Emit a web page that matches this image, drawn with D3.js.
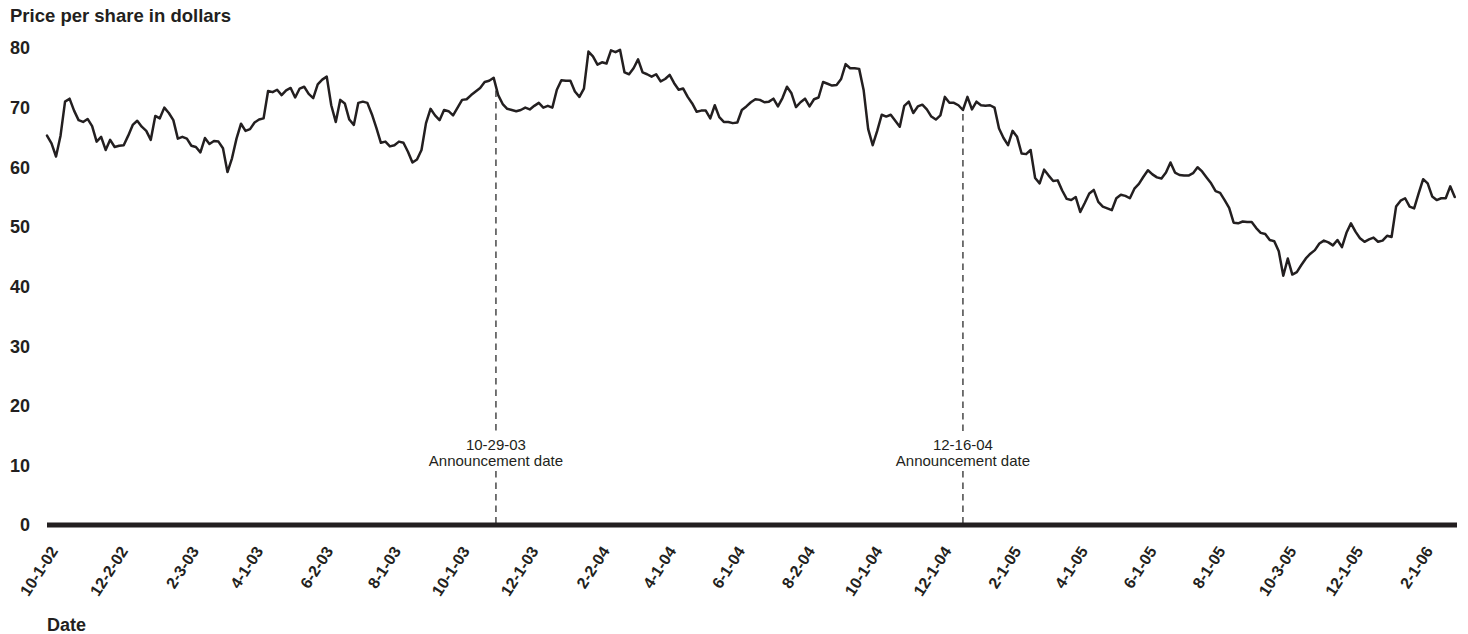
<!DOCTYPE html>
<html><head><meta charset="utf-8">
<script src="https://cdn.jsdelivr.net/npm/d3@7"></script>
<style>
body{margin:0;background:#fff}
svg{display:block}
text{font-family:"Liberation Sans",Arial,Helvetica,sans-serif;fill:#231f20}
</style>
</head><body>
<svg id="c" width="1468" height="634"></svg>
<script>
// ---- data ----
const startDate = "9-26-02";   // first observation
const endDate = "2-27-06";     // end of axis
const stepDays = 4;            // spacing of the sampled observations
const prices = [
65.3,64.0,61.8,65.3,71.0,71.5,69.5,67.9,67.6,68.1,
66.9,64.3,65.1,62.9,64.6,63.4,63.6,63.7,65.3,67.1,
67.8,66.8,66.1,64.6,68.6,68.2,70.0,69.1,67.9,64.8,
65.1,64.8,63.6,63.4,62.5,64.9,63.9,64.4,64.3,63.2,
59.2,61.5,64.8,67.3,66.1,66.4,67.5,68.0,68.2,72.8,
72.6,73.0,72.1,72.9,73.3,71.7,73.2,73.5,72.3,71.6,
73.9,74.7,75.2,70.4,67.6,71.3,70.7,68.0,67.1,70.8,
71.0,70.8,68.9,66.6,64.1,64.3,63.5,63.7,64.3,64.1,
62.6,60.8,61.3,62.9,67.4,69.8,68.7,67.9,69.6,69.4,
68.7,70.0,71.3,71.4,72.1,72.7,73.3,74.3,74.5,75.0,
72.1,70.6,69.8,69.6,69.4,69.6,70.0,69.7,70.3,70.8,
70.0,70.3,70.0,73.0,74.6,74.5,74.5,72.7,71.8,73.2,
79.4,78.6,77.2,77.6,77.4,79.6,79.3,79.7,75.9,75.6,
76.6,78.1,75.9,75.6,75.2,75.6,74.4,74.8,75.5,74.1,
73.0,73.2,71.8,70.7,69.3,69.5,69.5,68.2,70.4,68.4,
67.6,67.6,67.4,67.5,69.6,70.2,70.9,71.4,71.3,70.9,
71.0,71.5,70.2,71.6,73.5,72.4,70.1,70.9,71.5,70.2,
71.4,71.7,74.3,74.0,73.7,73.8,74.8,77.3,76.6,76.6,
76.5,72.9,66.4,63.7,66.1,68.8,68.5,68.8,67.8,66.8,
70.3,71.0,69.1,70.2,70.5,69.7,68.5,68.0,68.7,71.8,
70.8,70.8,70.4,69.6,71.8,69.7,71.0,70.4,70.3,70.4,
70.0,66.5,64.9,63.7,66.1,65.1,62.3,62.2,62.9,58.2,
57.3,59.6,58.6,57.7,57.8,56.1,54.7,54.5,55.0,52.5,
54.0,55.6,56.2,54.2,53.4,53.1,52.8,54.8,55.4,55.2,
54.8,56.4,57.2,58.4,59.5,58.8,58.3,58.1,59.1,60.8,
59.1,58.7,58.6,58.6,59.0,60.0,59.3,58.3,57.3,56.0,
55.7,54.5,53.2,50.7,50.6,50.9,50.8,50.8,49.8,49.0,
48.8,47.8,47.6,45.9,41.8,44.7,42.0,42.4,43.6,44.7,
45.5,46.1,47.2,47.7,47.4,46.9,47.8,46.6,49.0,50.6,
49.2,48.1,47.5,47.9,48.2,47.5,47.7,48.5,48.3,53.4,
54.4,54.8,53.4,53.1,55.6,58.0,57.3,55.1,54.5,54.8,
54.8,56.8,55.0
];
const yTicks = [0,10,20,30,40,50,60,70,80];
const xTickLabels = ["10-1-02","12-2-02","2-3-03","4-1-03","6-2-03","8-1-03","10-1-03",
  "12-1-03","2-2-04","4-1-04","6-1-04","8-2-04","10-1-04","12-1-04","2-1-05","4-1-05",
  "6-1-05","8-1-05","10-3-05","12-1-05","2-1-06"];
const annDates = ["10-29-03","12-16-04"];
const annText = "Announcement date";
const yTitle = "Price per share in dollars";
const xTitle = "Date";

// ---- chart ----
const ink = "#231f20";
const parse = d3.timeParse("%m-%d-%y");
const t0 = parse(startDate), t1 = parse(endDate);
const data = prices.map((p,i)=>({date:d3.timeDay.offset(t0,i*stepDays),value:p}));

const svg = d3.select("#c");
const x = d3.scaleTime().domain([t0,t1]).range([47,1457]);
const y = d3.scaleLinear().domain([0,80]).range([525,48]);

// titles
svg.append("text").attr("x",10).attr("y",22)
  .style("font-size","18.5px").style("font-weight","bold").text(yTitle);
svg.append("text").attr("x",47).attr("y",631)
  .style("font-size","18px").style("font-weight","bold").text(xTitle);

// y tick labels
svg.append("g").selectAll("text").data(yTicks).join("text")
  .attr("x",30).attr("y",d=>y(d)).attr("dy","0.36em")
  .attr("text-anchor","end")
  .style("font-size","18px").style("font-weight","bold")
  .text(d=>d);

// x tick labels
svg.append("g").selectAll("text").data(xTickLabels).join("text")
  .attr("text-anchor","end")
  .attr("transform",d=>`translate(${x(parse(d))+6},551) rotate(-57)`)
  .style("font-size","16px").style("font-weight","bold")
  .text(d=>d);

// announcements
const bis = d3.bisector(d=>d.date).left;
function valueAt(dt){
  const i = Math.max(1, Math.min(data.length-1, bis(data,dt)));
  const a = data[i-1], b = data[i];
  const f = (dt - a.date)/(b.date - a.date);
  return a.value + (b.value - a.value)*f;
}
annDates.forEach(ds=>{
  const dt = parse(ds), xp = x(dt);
  const g = svg.append("g");
  const t = g.append("text").attr("text-anchor","middle").style("font-size","15px");
  t.append("tspan").attr("x",xp).attr("y",y(12.5)).text(ds);
  t.append("tspan").attr("x",xp).attr("dy","1.03em").text(annText);
  const bb = t.node().getBBox();
  const dash = {stroke:"#3a3a3a","stroke-width":1.4,"stroke-dasharray":"6.5,5"};
  const segs = [[y(valueAt(dt))+4, bb.y-2],[bb.y+bb.height+2, y(0)]];
  segs.forEach(s=>{
    const l = g.append("line").attr("x1",xp).attr("x2",xp).attr("y1",s[0]).attr("y2",s[1]);
    Object.entries(dash).forEach(([k,v])=>l.attr(k,v));
  });
});

// price line
svg.append("path").datum(data)
  .attr("fill","none").attr("stroke",ink).attr("stroke-width",2.5)
  .attr("stroke-linejoin","round").attr("stroke-linecap","round")
  .attr("d",d3.line().x(d=>x(d.date)).y(d=>y(d.value)));

// baseline axis
svg.append("line").attr("x1",x(t0)).attr("x2",x(t1)).attr("y1",y(0)).attr("y2",y(0))
  .attr("stroke",ink).attr("stroke-width",5);
</script>
</body></html>
